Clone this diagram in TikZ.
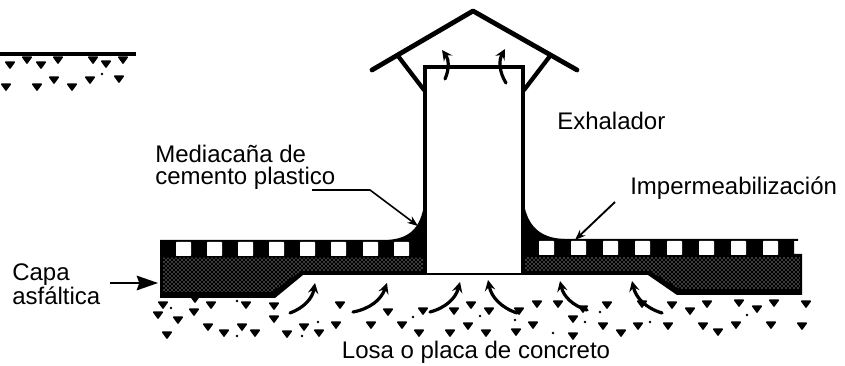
\documentclass[tikz,border=0pt]{standalone}
\usepackage{fontspec}
\setmainfont{Liberation Sans}
\usetikzlibrary{arrows, arrows.meta, patterns}
\tikzstyle{label}=[inner sep=0pt, align=left, font=\fontsize{18}{16.5}\selectfont]
\tikzstyle{air}=[line width=2.4pt, -stealth, line cap=round]
\tikzstyle{lead}=[line width=1.2pt, -{Stealth[length=8pt,width=6pt]}]
\tikzstyle{heavy}=[line width=3.2pt, line cap=round, line join=round]
\tikzstyle{stipple}=[pattern=crosshatch dots, pattern color=white]
\tikzstyle{hole}=[fill=white, rounded corners=0.5pt]
\def\blockh{13}
\def\blockw{15}

\begin{document}
\begin{tikzpicture}[x=0.75pt, y=-0.75pt]
    \useasboundingbox (0,0) rectangle (845,366);
    % deck on both sides of the vent
    \fill (160,240) -- (425,240) -- (425,275) -- (303,275) -- (275,298) -- (160,298) -- cycle;
    \fill (523,239) -- (798,239) -- (798,241) -- (794,241) -- (794,254) -- (802,254)
        -- (802,295) -- (677,295) -- (648,275) -- (523,275) -- cycle;
    \path[stipple] (163,258) -- (424,258) -- (424,271) -- (301,271) -- (272,292) -- (163,292) -- cycle;
    \path[stipple] (524,257) -- (800,257) -- (800,289) -- (680,289) -- (650,271) -- (524,271) -- cycle;
    \foreach \bx in {176,207,238,269,300,331,363,394}
        \fill[hole] (\bx,242) rectangle +(\blockw,\blockh+1);
    \foreach \bx in {539,571,603,635,667,699,731,763}
        \fill[hole] (\bx,241) rectangle +(\blockw,\blockh+1);
    % fillets
    \fill (425,198) .. controls (422,226) and (412,238) .. (388,240) -- (425,241) -- cycle;
    \fill (523,198) .. controls (526,224) and (538,238) .. (564,239) -- (523,241) -- cycle;
    % vent
    \coordinate (ridge) at (473,11);
    \coordinate (eaveL) at (372,70);
    \coordinate (eaveR) at (577,70);
    \coordinate (strutL) at (398,56);
    \coordinate (strutR) at (550,56);
    \coordinate (neckL) at (424,90);
    \coordinate (neckR) at (524,90);
    \draw[heavy, line width=3.6pt] (eaveL) -- (ridge) -- (eaveR);
    \draw[heavy] (strutL) -- (neckL);
    \draw[heavy] (strutR) -- (neckR);
    \fill[white] (425,67) rectangle (523,272);
    \draw[line width=2.6pt] (425,273) -- (425,67) -- (523,67) -- (523,273);
    \draw[line width=2pt] (425,274) -- (523,274);
    % ground
    \foreach \gx/\gy in {163/305,158/315,178/320,167/335,195/299,194/312,211/305,208/327,
        224/333,242/327,255/333,246/305,274/306,274/319,287/334,304/327,319/333,336/325,
        371/325,402/325,419/333,340/305,388/312,423/311,454/311,471/305,489/311,519/311,
        537/304,558/304,583/309,607/305,642/304,672/305,690/311,707/304,739/303,757/309,
        774/303,806/304,450/333,468/326,486/333,516/332,533/325,573/319,573/336,603/326,
        621/333,638/326,668/326,703/326,718/332,736/325,771/325,802/326,
        % sample at upper left
        27/60,10/65,41/65,58/60,93/60,106/64,123/60,54/80,90/80,119/79,6/87,37/87,72/87}
        \filldraw[line width=1.2pt, line join=round] (\gx-4.2,\gy-2.8) -- (\gx+4.2,\gy-2.8) -- (\gx,\gy+3) -- cycle;
    \foreach \gx/\gy in {480/316,515/320,553/333,585/322,600/312,650/322,747/315,171/308,
        237/301,237/336,318/322,302/336,413/317,102/74}
        \fill (\gx,\gy) circle (1.3);
    \coordinate (sampleL) at (0,54);
    \coordinate (sampleR) at (136,54);
    \draw[line width=3.6pt] (sampleL) -- (sampleR);
    % air
    \foreach \name/\xa/\ya/\xb/\yb/\side in {a/290/313/315/283/right, b/353/312/387/283/right,
        c/430/312/460/282/right, d/517/313/488/280/left, e/587/310/560/281/left,
        f/662/313/632/281/left, g/445/79/442/50/right, h/506/83/505/49/left}{
        \coordinate (\name0) at (\xa,\ya);
        \coordinate (\name1) at (\xb,\yb);
        \draw[air] (\name0) to[bend \side=30] (\name1);
    }
    % labels
    \node (exhalador) [label, anchor=base west] at (557,130) {Exhalador};
    \node (mediacana) [label, anchor=north west] at (155,145) {Mediacaña de\\cemento plastico};
    \node (imper) [label, anchor=base west] at (630,195) {Impermeabilización};
    \node (capa) [label, anchor=north west] at (12,263) {Capa\\asfáltica};
    \node (losa) [label, anchor=base] at (476,358) {Losa o placa de concreto};
    \coordinate (leadA) at (312,190);
    \coordinate (leadB) at (370,190);
    \coordinate (fillet) at (418,226);
    \coordinate (leadC) at (615,202);
    \coordinate (sheet) at (575,240);
    \coordinate (leadD) at (110,283);
    \coordinate (edge) at (158,283);
    \draw[lead] (leadA) -- (leadB) -- (fillet);
    \draw[lead, line width=1.4pt] (leadC) -- (sheet);
    \draw[line width=1.2pt, -{Stealth[length=16pt,width=11pt,inset=2pt]}] (leadD) -- (edge);
\end{tikzpicture}
\end{document}
